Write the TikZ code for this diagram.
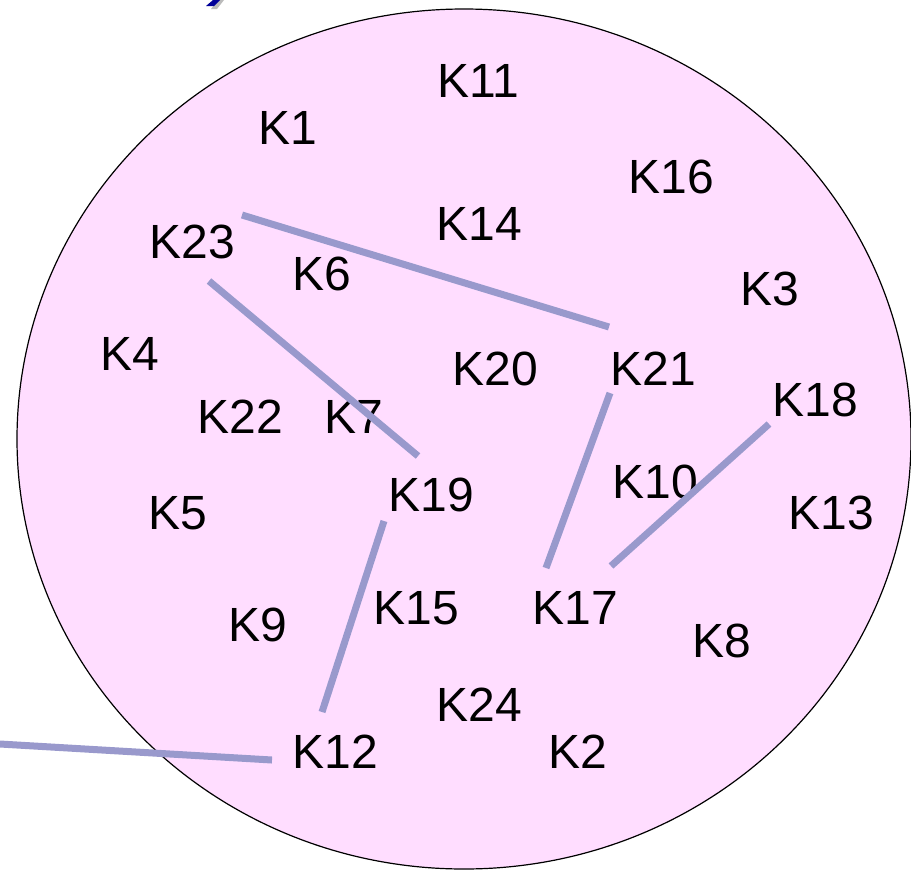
\documentclass[tikz,border=0pt]{standalone}
\usepackage{fontspec}
\setmainfont{Liberation Sans}
\usetikzlibrary{calc}
\definecolor{pinkfill}{HTML}{FFDDFF}
\definecolor{linkcol}{HTML}{9999CC}
\definecolor{titleblue}{HTML}{000099}
\definecolor{shadowgray}{HTML}{BBBBBB}
\begin{document}
\begin{tikzpicture}[x=1pt,y=-1pt,
  lbl/.style={font=\fontsize{48}{54}\selectfont, inner sep=0pt, text=black},
  link/.style={draw=linkcol, line width=7pt}]
\useasboundingbox (0,0) rectangle (911,871);
% title fragment
\fill[shadowgray] (218,0) -- (224,0) -- (217,9) -- (211,9) -- cycle;
\fill[titleblue] (213,0) -- (220,0) -- (214,6) -- (206,6) -- cycle;
% cloud
\draw[fill=pinkfill, line width=1.2pt] (464,439) ellipse [x radius=447, y radius=430];
% labels
\node[lbl] (K11) at (478,81) {K11};
\node[lbl] (K1) at (288,128) {K1};
\node[lbl] (K16) at (671,177) {K16};
\node[lbl] (K14) at (479,224) {K14};
\node[lbl] (K23) at (192,242) {K23};
\node[lbl] (K6) at (322,274) {K6};
\node[lbl] (K3) at (770,289) {K3};
\node[lbl] (K4) at (130,354) {K4};
\node[lbl] (K20) at (495,369) {K20};
\node[lbl] (K21) at (653,369) {K21};
\node[lbl] (K18) at (815,400) {K18};
\node[lbl] (K22) at (240,417) {K22};
\node[lbl] (K7) at (354,417) {K7};
\node[lbl] (K10) at (655,482) {K10};
\node[lbl] (K19) at (431,495) {K19};
\node[lbl] (K5) at (178,513) {K5};
\node[lbl] (K13) at (831,513) {K13};
\node[lbl] (K15) at (416,608) {K15};
\node[lbl] (K17) at (575,608) {K17};
\node[lbl] (K9) at (258,625) {K9};
\node[lbl] (K8) at (722,641) {K8};
\node[lbl] (K24) at (479,705) {K24};
\node[lbl] (K12) at (335,752) {K12};
\node[lbl] (K2) at (578,752) {K2};
\coordinate (outside) at (0,744);
% links
\draw[link] ($(K23)+(50,-27)$) -- ($(K21)+(-44,-42)$);
\draw[link] ($(K23)+(17,39)$) -- ($(K19)+(-13,-39)$);
\draw[link] ($(K19)+(-47,26)$) -- ($(K12)+(-13,-40)$);
\draw[link] ($(K21)+(-43,24)$) -- ($(K17)+(-29,-40)$);
\draw[link] ($(K18)+(-46,24)$) -- ($(K17)+(36,-42)$);
\draw[link] (outside) -- ($(K12)+(-63,8)$);
\end{tikzpicture}
\end{document}
